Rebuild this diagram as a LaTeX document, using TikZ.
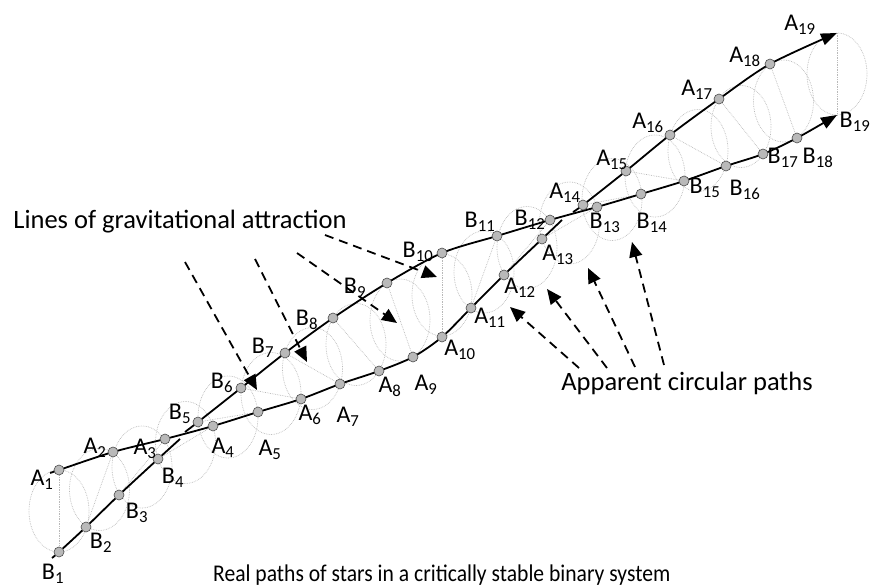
\documentclass[tikz,border=0pt]{standalone}
\usepackage{fontspec}
\setmainfont{Carlito}
\newfontfamily\narrowfont[FakeStretch=0.9]{Carlito}
\usepackage{tikz}
\usetikzlibrary{arrows.meta, calc}

\begin{document}
\begin{tikzpicture}[
  x=1pt, y=-1pt,
  orbit/.style={draw=gray!55, densely dotted, line width=0.7pt},
  realpath/.style={draw=black, line width=1.8pt},
  star/.style={circle, fill=gray!55, draw=black!70, line width=0.6pt, inner sep=0pt, minimum size=10pt},
  lbl/.style={font=\fontsize{24}{28}\selectfont, inner sep=0pt},
  txt/.style={font=\fontsize{26.5}{30}\selectfont, inner sep=0pt},
  pull/.style={dash pattern=on 9pt off 6pt, line width=1.8pt, -{Triangle[length=15pt,width=13pt]}}
]
  \useasboundingbox (0,0) rectangle (871,588);
  % Star positions (pixels): A on the upper path, B on the lower path
  \foreach \n/\x/\y in {
    1/59/470, 2/113/452, 3/165/439, 4/213/426, 5/258/412, 6/301/399,
    7/340/384, 8/379/371, 9/413/357, 10/442/337, 11/471/308, 12/504/275,
    13/542/239, 14/583/205, 15/626/171, 16/670/135, 17/719/99,
    18/770/64, 19/837/33
  }{
    \coordinate (A\n) at (\x,\y);
  }
  \foreach \n/\x/\y in {
    1/59/552, 2/86/527, 3/119/495, 4/158/459, 5/198/422, 6/241/388,
    7/285/353, 8/333/318, 9/387/283, 10/442/253, 11/497/236, 12/550/220,
    13/597/207, 14/641/194, 15/684/181, 16/726/166, 17/763/154,
    18/797/138, 19/837/115
  }{
    \coordinate (B\n) at (\x,\y);
  }
  % Apparent circular paths
  \foreach \n in {1,...,19}{
    \draw[orbit] ($(A\n)!0.5!(B\n)$) ellipse [x radius=30pt, y radius=41pt];
    \draw[orbit] (A\n) -- (B\n);
  }
  % Real paths (gaps where one passes behind the other)
  \coordinate (sA) at (50,473);
  \coordinate (gA1) at (562,220);
  \coordinate (gA2) at (573,212);
  \coordinate (sB) at (52,558);
  \coordinate (gB1) at (180,439);
  \coordinate (gB2) at (185,432);
  \draw[realpath] plot[smooth] coordinates {(sA) (A1) (A2) (A3) (A4) (A5)
    (A6) (A7) (A8) (A9) (A10) (A11) (A12) (A13) (gA1)};
  \draw[realpath, -{Triangle[length=16pt,width=12pt]}] plot[smooth]
    coordinates {(gA2) (A14) (A15) (A16) (A17) (A18) (A19)};
  \draw[realpath] plot[smooth] coordinates {(sB) (B1) (B2) (B3) (B4) (gB1)};
  \draw[realpath, -{Triangle[length=16pt,width=12pt]}] plot[smooth]
    coordinates {(gB2) (B5) (B6) (B7) (B8) (B9) (B10) (B11) (B12) (B13)
    (B14) (B15) (B16) (B17) (B18) (B19)};
  \foreach \n in {1,...,18}{
    \node[star] (dA\n) at (A\n) {};
    \node[star] (dB\n) at (B\n) {};
  }
  % Labels
  \foreach \n/\x/\y in {
    1/42/480, 2/95/448, 3/145/449, 4/223/448, 5/270/450, 6/310/415,
    7/348/417, 8/390/387, 9/426/385, 10/460/350, 11/490/318, 12/520/288,
    13/558/255, 14/565/193, 15/612/160, 16/648/123, 17/697/90,
    18/745/57, 19/800/25
  }{
    \node[lbl] (lA\n) at (\x,\y) {A\textsubscript{\n}};
  }
  \foreach \n/\x/\y in {
    1/53/574, 2/101/543, 3/137/513, 4/173/478, 5/180/414, 6/222/383,
    7/263/348, 8/307/320, 9/355/288, 10/418/252, 11/480/222, 12/530/220,
    13/605/223, 14/652/223, 15/705/188, 16/745/190, 17/783/158,
    18/818/158, 19/855/122
  }{
    \node[lbl] (lB\n) at (\x,\y) {B\textsubscript{\n}};
  }
  % Lines of gravitational attraction
  \node[txt] (grav) at (180,222) {Lines of gravitational attraction};
  \foreach \i/\xs/\ys/\xe/\ye in {
    1/185/262/257/390, 2/255/259/307/362, 3/297/253/397/323, 4/325/235/437/277
  }{
    \coordinate (g\i s) at (\xs,\ys);
    \coordinate (g\i e) at (\xe,\ye);
    \draw[pull] (g\i s) -- (g\i e);
  }
  % Apparent circular paths
  \node[txt] (appar) at (687,383) {Apparent circular paths};
  \foreach \i/\xs/\ys/\xe/\ye in {
    1/579/368/510/307, 2/607/368/547/289, 3/635/367/588/268, 4/664/365/632/242
  }{
    \coordinate (c\i s) at (\xs,\ys);
    \coordinate (c\i e) at (\xe,\ye);
    \draw[pull] (c\i s) -- (c\i e);
  }
  \node[anchor=base west, inner sep=0pt, font=\narrowfont\fontsize{24}{28}\selectfont]
    (real) at (213,581) {Real paths of stars in a critically stable binary system};
\end{tikzpicture}
\end{document}
